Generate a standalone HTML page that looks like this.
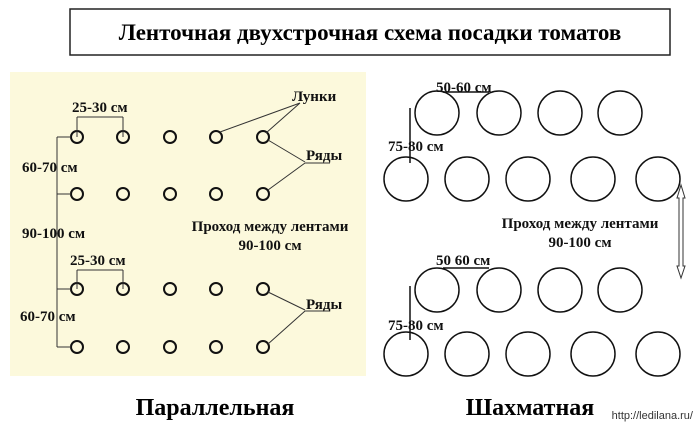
<!DOCTYPE html>
<html><head><meta charset="utf-8"><style>
body{margin:0;width:700px;height:425px;background:#fff;overflow:hidden}
text{font-family:"Liberation Serif",serif;font-weight:700}
</style></head><body>
<svg width="700" height="425" xmlns="http://www.w3.org/2000/svg">
<rect x="70" y="9" width="600" height="46" fill="#fff" stroke="#222" stroke-width="1.5"/>
<text x="370" y="40" font-size="23" text-anchor="middle">Ленточная двухстрочная схема посадки томатов</text>
<rect x="10" y="72" width="356" height="304" fill="#fcf9dc"/>
<g fill="none" stroke="#111" stroke-width="2">
<circle cx="77" cy="137" r="6"/><circle cx="123" cy="137" r="6"/><circle cx="170" cy="137" r="6"/><circle cx="216" cy="137" r="6"/><circle cx="263" cy="137" r="6"/>
<circle cx="77" cy="194" r="6"/><circle cx="123" cy="194" r="6"/><circle cx="170" cy="194" r="6"/><circle cx="216" cy="194" r="6"/><circle cx="263" cy="194" r="6"/>
<circle cx="77" cy="289" r="6"/><circle cx="123" cy="289" r="6"/><circle cx="170" cy="289" r="6"/><circle cx="216" cy="289" r="6"/><circle cx="263" cy="289" r="6"/>
<circle cx="77" cy="347" r="6"/><circle cx="123" cy="347" r="6"/><circle cx="170" cy="347" r="6"/><circle cx="216" cy="347" r="6"/><circle cx="263" cy="347" r="6"/>
</g>
<g stroke="#333" stroke-width="1" fill="none">
<path d="M77 117V137M123 117V137M77 117H123"/>
<path d="M77 270V289M123 270V289M77 270H123"/>
<path d="M57 137V347M57 137H71M57 194H71M57 289H71M57 347H71"/>
<path d="M220 132L300 103M266 133L300 103"/>
<path d="M268 140L305 162M268 190L305 163M305 163H330"/>
<path d="M268 292L305 310M268 344L305 311M305 311H330"/>
</g>
<g font-size="15" fill="#111">
<text x="72" y="112">25-30 см</text>
<text x="70" y="265">25-30 см</text>
<text x="22" y="172">60-70 см</text>
<text x="22" y="238">90-100 см</text>
<text x="20" y="321">60-70 см</text>
<text x="292" y="101">Лунки</text>
<text x="306" y="160">Ряды</text>
<text x="306" y="309">Ряды</text>
<text x="270" y="231" text-anchor="middle">Проход между лентами</text>
<text x="270" y="250" text-anchor="middle">90-100 см</text>
<text x="436" y="92">50-60 см</text>
<text x="436" y="265">50 60 см</text>
<text x="388" y="151">75-80 см</text>
<text x="388" y="330">75-80 см</text>
<text x="580" y="228" text-anchor="middle">Проход между лентами</text>
<text x="580" y="247" text-anchor="middle">90-100 см</text>
</g>
<g fill="none" stroke="#111" stroke-width="1.5">
<circle cx="437" cy="113" r="22"/><circle cx="499" cy="113" r="22"/><circle cx="560" cy="113" r="22"/><circle cx="620" cy="113" r="22"/>
<circle cx="406" cy="179" r="22"/><circle cx="467" cy="179" r="22"/><circle cx="528" cy="179" r="22"/><circle cx="593" cy="179" r="22"/><circle cx="658" cy="179" r="22"/>
<circle cx="437" cy="290" r="22"/><circle cx="499" cy="290" r="22"/><circle cx="560" cy="290" r="22"/><circle cx="620" cy="290" r="22"/>
<circle cx="406" cy="354" r="22"/><circle cx="467" cy="354" r="22"/><circle cx="528" cy="354" r="22"/><circle cx="593" cy="354" r="22"/><circle cx="658" cy="354" r="22"/>
</g>
<g stroke="#111" stroke-width="1.5">
<path d="M443 92H489M443 268H489M410 108V163M410 286V340"/>
</g>
<path d="M681 185L677 198H679V266H677L681 278L685 266H683V198H685Z" fill="#fff" stroke="#333"/>
<text x="215" y="415" font-size="24" text-anchor="middle">Параллельная</text>
<text x="530" y="415" font-size="24" text-anchor="middle">Шахматная</text>
<text x="693" y="419" font-size="11" style="font-weight:400;font-family:'Liberation Sans',sans-serif" text-anchor="end" fill="#333">http://ledilana.ru/</text>
</svg>
</body></html>
